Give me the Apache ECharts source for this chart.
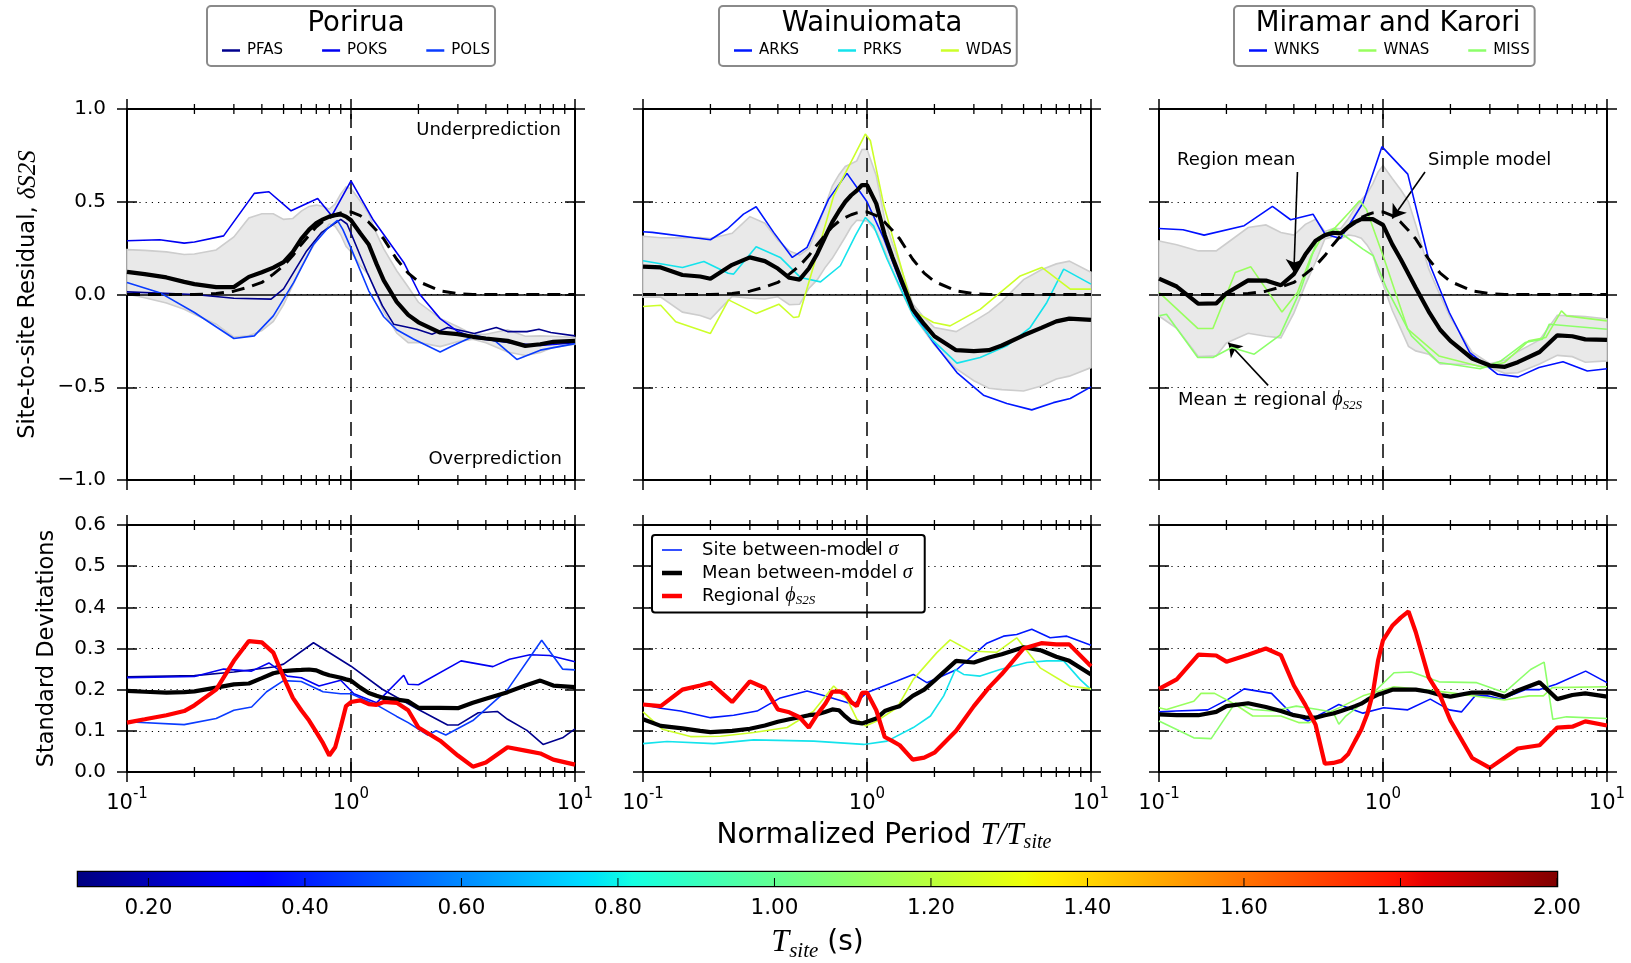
<!DOCTYPE html>
<html>
<head>
<meta charset="utf-8">
<title>Site-to-site residuals by region</title>
<script src="https://cdn.jsdelivr.net/npm/echarts@6/dist/echarts.min.js"></script>
<style>
html, body { margin: 0; padding: 0; background: #fff; }
#chart { width: 1631px; height: 963px; }
</style>
</head>
<body>
<div id="chart"></div>
<script>
// ---------------- data ----------------
// Normalized periods T/Tsite at which the region mean, regional phi and mean sigma are given
const periods = [0.1, 0.12, 0.15, 0.18, 0.2, 0.25, 0.3, 0.35, 0.4, 0.45, 0.5, 0.55, 0.6, 0.65, 0.7, 0.75, 0.8, 0.85, 0.9, 0.95, 1.0, 1.1, 1.2, 1.3, 1.4, 1.6, 1.8, 2.0, 2.5, 3.0, 3.5, 4.0, 5.0, 6.0, 7.0, 8.0, 10];

// Simple model residual (same in every region)
const simpleModel = [0, 0, 0, 0, 0, 0.005, 0.018, 0.04, 0.065, 0.11, 0.155, 0.21, 0.27, 0.32, 0.365, 0.395, 0.415, 0.43, 0.44, 0.445, 0.445, 0.425, 0.39, 0.345, 0.3, 0.19, 0.115, 0.07, 0.02, 0.005, 0, 0, 0, 0, 0, 0, 0];

// Porirua
const poriruaMean = [0.122, 0.11, 0.092, 0.068, 0.056, 0.04, 0.04, 0.095, 0.12, 0.145, 0.175, 0.23, 0.30, 0.35, 0.385, 0.405, 0.42, 0.428, 0.432, 0.42, 0.40, 0.33, 0.27, 0.165, 0.076, -0.04, -0.11, -0.15, -0.205, -0.214, -0.228, -0.237, -0.25, -0.277, -0.268, -0.255, -0.25];
const poriruaPhi = [0.12, 0.128, 0.138, 0.148, 0.162, 0.20, 0.27, 0.318, 0.315, 0.29, 0.23, 0.18, 0.15, 0.125, 0.097, 0.07, 0.04, 0.06, 0.11, 0.16, 0.17, 0.174, 0.165, 0.163, 0.17, 0.168, 0.15, 0.108, 0.076, 0.04, 0.013, 0.023, 0.06, 0.052, 0.045, 0.03, 0.018];
const poriruaSigmaMean = [0.197, 0.195, 0.193, 0.194, 0.196, 0.205, 0.213, 0.215, 0.228, 0.24, 0.245, 0.247, 0.248, 0.249, 0.247, 0.24, 0.235, 0.232, 0.229, 0.225, 0.222, 0.205, 0.192, 0.185, 0.18, 0.176, 0.172, 0.156, 0.156, 0.155, 0.168, 0.178, 0.194, 0.21, 0.222, 0.21, 0.206];
const pfasResidual = [[0.1, 0.014], [0.2, 0.0], [0.3, -0.02], [0.44, -0.025], [0.5, 0.03], [0.63, 0.23], [0.74, 0.335], [0.9, 0.405], [0.96, 0.38], [1.0, 0.33], [1.18, 0.12], [1.38, -0.06], [1.55, -0.16], [1.97, -0.187], [2.3, -0.214], [2.7, -0.178], [3.55, -0.21], [4.45, -0.178], [5.0, -0.2], [6.1, -0.2], [6.9, -0.187], [7.8, -0.205], [10, -0.223]];
const poksResidual = [[0.1, 0.29], [0.14, 0.295], [0.18, 0.277], [0.2, 0.283], [0.27, 0.316], [0.37, 0.545], [0.43, 0.554], [0.54, 0.451], [0.71, 0.518], [0.82, 0.424], [1.0, 0.613], [1.26, 0.40], [1.72, 0.173], [2.03, 0.0], [2.5, -0.13], [3.0, -0.2], [3.6, -0.235], [4.5, -0.25], [5.5, -0.265], [7, -0.275], [10, -0.26]];
const polsResidual = [[0.1, 0.065], [0.14, 0.01], [0.2, -0.097], [0.3, -0.237], [0.37, -0.223], [0.45, -0.115], [0.555, 0.065], [0.68, 0.27], [0.78, 0.352], [0.87, 0.40], [0.92, 0.35], [1.0, 0.25], [1.2, 0.02], [1.4, -0.12], [1.6, -0.19], [1.9, -0.24], [2.5, -0.31], [2.8, -0.28], [3.6, -0.22], [4.4, -0.25], [5.5, -0.35], [7, -0.3], [10, -0.265]];
const pfasSigma = [[0.1, 0.231], [0.2, 0.234], [0.3, 0.243], [0.45, 0.255], [0.5, 0.262], [0.68, 0.314], [1.0, 0.257], [1.38, 0.201], [2.0, 0.152], [2.7, 0.114], [3.0, 0.114], [3.7, 0.144], [4.5, 0.147], [5.0, 0.128], [6.1, 0.101], [7.2, 0.067], [8.8, 0.083], [10, 0.105]];
const poksSigma = [[0.1, 0.229], [0.2, 0.232], [0.27, 0.25], [0.36, 0.245], [0.43, 0.265], [0.52, 0.233], [0.6, 0.229], [0.72, 0.209], [0.9, 0.223], [1.03, 0.19], [1.3, 0.168], [1.72, 0.235], [1.8, 0.213], [2.0, 0.212], [3.1, 0.27], [4.3, 0.256], [5.1, 0.274], [6.3, 0.285], [7.7, 0.283], [10, 0.268]];
const polsSigma = [[0.1, 0.122], [0.18, 0.115], [0.25, 0.13], [0.3, 0.15], [0.36, 0.158], [0.42, 0.195], [0.5, 0.222], [0.6, 0.22], [0.75, 0.195], [0.9, 0.19], [1.0, 0.19], [1.3, 0.163], [1.6, 0.135], [1.8, 0.12], [2.2, 0.09], [2.4, 0.1], [2.65, 0.09], [3.5, 0.125], [5, 0.2], [7.1, 0.32], [8.8, 0.25], [10, 0.248]];

// Wainuiomata
const wainuiomataMean = [0.15, 0.146, 0.105, 0.097, 0.085, 0.16, 0.2, 0.18, 0.14, 0.09, 0.08, 0.14, 0.22, 0.31, 0.39, 0.45, 0.5, 0.535, 0.56, 0.59, 0.59, 0.49, 0.32, 0.2, 0.1, -0.08, -0.16, -0.225, -0.3, -0.305, -0.3, -0.275, -0.22, -0.18, -0.145, -0.13, -0.137];
const wainuiomataPhi = [0.164, 0.16, 0.2, 0.21, 0.217, 0.17, 0.22, 0.204, 0.152, 0.145, 0.133, 0.108, 0.14, 0.165, 0.195, 0.196, 0.19, 0.17, 0.16, 0.192, 0.193, 0.15, 0.085, 0.075, 0.065, 0.03, 0.035, 0.047, 0.1, 0.16, 0.205, 0.238, 0.3, 0.313, 0.31, 0.31, 0.257];
const wainuiomataSigmaMean = [0.128, 0.112, 0.106, 0.1, 0.097, 0.1, 0.105, 0.113, 0.122, 0.128, 0.133, 0.138, 0.14, 0.146, 0.152, 0.15, 0.135, 0.123, 0.12, 0.118, 0.122, 0.13, 0.148, 0.155, 0.16, 0.185, 0.2, 0.222, 0.27, 0.266, 0.278, 0.286, 0.303, 0.295, 0.28, 0.27, 0.237];
const arksResidual = [[0.1, 0.338], [0.11, 0.335], [0.2, 0.295], [0.238, 0.353], [0.281, 0.433], [0.32, 0.473], [0.383, 0.335], [0.464, 0.2], [0.54, 0.254], [0.674, 0.514], [0.814, 0.653], [1.0, 0.5], [1.19, 0.3], [1.41, 0.065], [1.61, -0.097], [1.98, -0.259], [2.52, -0.421], [3.31, -0.543], [4.21, -0.588], [5.44, -0.622], [6.79, -0.583], [8.08, -0.561], [10, -0.498]];
const prksResidual = [[0.1, 0.182], [0.15, 0.146], [0.187, 0.178], [0.24, 0.115], [0.254, 0.11], [0.32, 0.257], [0.41, 0.2], [0.504, 0.092], [0.62, 0.068], [0.76, 0.155], [0.887, 0.317], [0.983, 0.415], [1.07, 0.37], [1.23, 0.19], [1.61, -0.115], [1.98, -0.25], [2.52, -0.37], [3.2, -0.34], [4.21, -0.277], [5.35, -0.178], [6.35, -0.043], [7.55, 0.137], [10, 0.056]];
const wdasResidual = [[0.1, -0.065], [0.12, -0.058], [0.14, -0.147], [0.2, -0.21], [0.241, -0.029], [0.32, -0.103], [0.404, -0.052], [0.47, -0.124], [0.496, -0.12], [0.578, 0.155], [0.71, 0.532], [0.983, 0.865], [1.035, 0.83], [1.19, 0.478], [1.61, -0.088], [1.98, -0.151], [2.35, -0.169], [3.2, -0.08], [4.83, 0.1], [6.03, 0.146], [8.08, 0.029], [10, 0.029]];
const arksSigma = [[0.1, 0.164], [0.12, 0.155], [0.147, 0.148], [0.2, 0.132], [0.254, 0.138], [0.323, 0.148], [0.41, 0.18], [0.54, 0.197], [0.64, 0.186], [0.872, 0.164], [1.0, 0.193], [1.36, 0.221], [1.61, 0.237], [1.85, 0.217], [2.52, 0.249], [3.43, 0.313], [4.07, 0.33], [4.66, 0.334], [5.44, 0.347], [6.57, 0.326], [7.8, 0.33], [10, 0.308]];
const prksSigma = [[0.1, 0.069], [0.128, 0.074], [0.207, 0.069], [0.312, 0.078], [0.578, 0.075], [0.966, 0.067], [1.23, 0.075], [1.61, 0.108], [1.92, 0.136], [2.2, 0.185], [2.48, 0.249], [2.7, 0.237], [3.2, 0.233], [3.93, 0.249], [5.18, 0.266], [6.35, 0.27], [7.55, 0.27], [8.93, 0.225], [10, 0.2]];
const wdasSigma = [[0.1, 0.146], [0.122, 0.104], [0.163, 0.086], [0.222, 0.087], [0.312, 0.096], [0.44, 0.108], [0.578, 0.148], [0.71, 0.209], [0.814, 0.177], [0.902, 0.128], [0.983, 0.112], [1.108, 0.124], [1.36, 0.156], [1.61, 0.225], [2.05, 0.29], [2.35, 0.321], [2.89, 0.294], [3.8, 0.291], [4.66, 0.326], [5.93, 0.253], [8.08, 0.209], [10, 0.202]];

// Miramar and Karori
const miramarMean = [0.086, 0.043, -0.05, -0.048, 0.007, 0.076, 0.075, 0.05, 0.11, 0.215, 0.29, 0.32, 0.333, 0.33, 0.365, 0.39, 0.406, 0.406, 0.406, 0.39, 0.375, 0.27, 0.19, 0.11, 0.036, -0.092, -0.19, -0.25, -0.345, -0.383, -0.39, -0.365, -0.31, -0.22, -0.225, -0.242, -0.245];
const miramarPhi = [0.202, 0.225, 0.285, 0.283, 0.268, 0.285, 0.3, 0.284, 0.21, 0.163, 0.115, 0.02, 0.022, 0.027, 0.044, 0.075, 0.103, 0.14, 0.19, 0.27, 0.32, 0.355, 0.375, 0.39, 0.34, 0.23, 0.185, 0.125, 0.034, 0.01, 0.035, 0.057, 0.065, 0.108, 0.11, 0.123, 0.113];
const miramarSigmaMean = [0.14, 0.138, 0.138, 0.146, 0.16, 0.167, 0.158, 0.148, 0.138, 0.133, 0.132, 0.138, 0.142, 0.148, 0.154, 0.16, 0.166, 0.175, 0.182, 0.188, 0.192, 0.2, 0.2, 0.2, 0.2, 0.195, 0.187, 0.183, 0.193, 0.193, 0.183, 0.198, 0.218, 0.177, 0.187, 0.191, 0.183];
const wnksResidual = [[0.1, 0.356], [0.128, 0.349], [0.159, 0.32], [0.24, 0.371], [0.321, 0.475], [0.387, 0.403], [0.487, 0.433], [0.551, 0.326], [0.646, 0.302], [0.814, 0.493], [0.989, 0.797], [1.29, 0.649], [1.626, 0.155], [1.977, -0.097], [2.44, -0.313], [3.25, -0.43], [4.01, -0.444], [4.97, -0.394], [6.36, -0.363], [8.17, -0.412], [10, -0.4]];
const wnasResidual = [[0.1, 0.011], [0.149, -0.183], [0.174, -0.183], [0.219, 0.119], [0.257, 0.149], [0.354, -0.094], [0.415, 0.011], [0.478, 0.209], [0.532, 0.308], [0.613, 0.362], [0.706, 0.442], [0.786, 0.505], [0.843, 0.46], [1.007, 0.2], [1.29, -0.187], [1.776, -0.331], [2.82, -0.394], [3.48, -0.367], [4.47, -0.25], [5.33, -0.232], [6.26, -0.088], [6.6, -0.115], [10, -0.142]];
const missResidual = [[0.1, -0.115], [0.108, -0.106], [0.149, -0.34], [0.174, -0.34], [0.211, -0.286], [0.266, -0.322], [0.347, -0.219], [0.43, 0.029], [0.513, 0.308], [0.613, 0.353], [0.814, 0.245], [0.905, 0.209], [1.04, 0.03], [1.34, -0.223], [1.776, -0.367], [2.72, -0.4], [3.36, -0.358], [4.31, -0.259], [5.15, -0.241], [5.53, -0.16], [10, -0.187]];
const wnksSigma = [[0.1, 0.146], [0.119, 0.148], [0.165, 0.151], [0.204, 0.177], [0.24, 0.202], [0.318, 0.191], [0.387, 0.144], [0.462, 0.124], [0.551, 0.146], [0.635, 0.164], [0.814, 0.143], [1.007, 0.156], [1.29, 0.151], [1.626, 0.177], [1.977, 0.151], [2.24, 0.146], [2.58, 0.185], [2.92, 0.185], [3.36, 0.177], [4.31, 0.2], [4.97, 0.2], [5.93, 0.213], [8.03, 0.245], [10, 0.217]];
const wnasSigma = [[0.1, 0.156], [0.108, 0.152], [0.143, 0.172], [0.154, 0.191], [0.177, 0.191], [0.219, 0.164], [0.262, 0.136], [0.35, 0.136], [0.42, 0.12], [0.47, 0.12], [0.55, 0.14], [0.66, 0.16], [0.814, 0.185], [1.12, 0.207], [1.7, 0.197], [2.1, 0.191], [3.48, 0.175], [4.5, 0.185], [5.2, 0.185], [5.7, 0.205], [10, 0.207]];
const missSigma = [[0.1, 0.124], [0.143, 0.083], [0.171, 0.081], [0.219, 0.168], [0.262, 0.152], [0.323, 0.148], [0.41, 0.16], [0.513, 0.152], [0.6, 0.145], [0.635, 0.116], [0.682, 0.136], [0.814, 0.168], [1.12, 0.241], [1.34, 0.243], [1.78, 0.219], [2.62, 0.217], [3.48, 0.193], [4.56, 0.249], [5.24, 0.267], [5.73, 0.128], [6.6, 0.134], [10, 0.13]];

// Colour bar of site periods
const tsiteRange = [0.11, 2.0];
const tsiteTicks = [0.2, 0.4, 0.6, 0.8, 1.0, 1.2, 1.4, 1.6, 1.8, 2.0];
// Period axis tick labels and minor tick positions
const periodTickLabels = ['{b|10}{p|-1}', '{b|10}{p|0}', '{b|10}{p|1}'];
const periodMinorTicks = [0.2, 0.3, 0.4, 0.5, 0.6, 0.7, 0.8, 0.9, 2, 3, 4, 5, 6, 7, 8, 9];

// ---------------- styling ----------------
const FONT = 'DejaVu Sans';
const MATH = 'Liberation Serif';
const PHI = '\u03d5';
const siteColors = {
  PFAS: '#00008e', POKS: '#0000f2', POLS: '#0a3cff',
  ARKS: '#0018ff', PRKS: '#14e3ec', WDAS: '#ccff2a',
  WNKS: '#0010ff', WNAS: '#98ff5e', MISS: '#8cff6a'
};
const JET = [[0, '#000080'], [0.11, '#0000ff'], [0.125, '#0000ff'], [0.34, '#00dbff'], [0.35, '#00e5f7'],
  [0.375, '#14ffe2'], [0.64, '#eeff08'], [0.65, '#f7f500'], [0.66, '#ffec00'], [0.89, '#ff1300'],
  [0.91, '#e80000'], [1, '#800000']];

const GRID_LEFT = [127, 643, 1159];
const GRID_W = 448;
const ROW_TOP = [109, 525];
const ROW_H = [371, 247];

const regions = [
  { title: 'Porirua', mean: poriruaMean, phi: poriruaPhi, sigmaMean: poriruaSigmaMean,
    sites: [['PFAS', pfasResidual, pfasSigma], ['POKS', poksResidual, poksSigma], ['POLS', polsResidual, polsSigma]] },
  { title: 'Wainuiomata', mean: wainuiomataMean, phi: wainuiomataPhi, sigmaMean: wainuiomataSigmaMean,
    sites: [['ARKS', arksResidual, arksSigma], ['PRKS', prksResidual, prksSigma], ['WDAS', wdasResidual, wdasSigma]] },
  { title: 'Miramar and Karori', mean: miramarMean, phi: miramarPhi, sigmaMean: miramarSigmaMean,
    sites: [['WNKS', wnksResidual, wnksSigma], ['WNAS', wnasResidual, wnasSigma], ['MISS', missResidual, missSigma]] }
];

const grids = [], xAxes = [], yAxes = [], series = [];
const NO_LINE = { show: false, onZero: false };

// decade ticks (in log10 units) straddling the top or bottom frame edge
function decadeAxis(g, pos, labels) {
  return {
    type: 'value', gridIndex: g, position: pos, min: -1, max: 1, interval: 1, offset: -10,
    axisLine: NO_LINE,
    axisTick: { show: true, length: 20, lineStyle: { color: '#000', width: 1.5 } },
    axisLabel: labels ? {
      show: true, margin: 25, color: '#000',
      formatter: v => periodTickLabels[Math.round(v) + 1],
      rich: {
        b: { fontFamily: FONT, fontSize: 21, lineHeight: 27, verticalAlign: 'bottom', color: '#000' },
        p: { fontFamily: FONT, fontSize: 15, lineHeight: 17, verticalAlign: 'top', color: '#000' }
      }
    } : { show: false },
    splitLine: { show: false }
  };
}

// minor period ticks drawn on both the top and bottom frame edges
function minorTicks(ax) {
  return {
    type: 'custom', xAxisIndex: ax.xi, yAxisIndex: ax.yi, silent: true, animation: false, z: 30, clip: false,
    data: periodMinorTicks.map(t => [t, 0]),
    encode: { x: 0, y: 1 },
    renderItem: (params, api) => {
      const cs = params.coordSys;
      const x = api.coord([api.value(0), api.value(1)])[0];
      const yb = cs.y + cs.height;
      return { type: 'group', children: [
        { type: 'line', shape: { x1: x, y1: cs.y - 5, x2: x, y2: cs.y + 5 }, style: { stroke: '#000', lineWidth: 1.3 } },
        { type: 'line', shape: { x1: x, y1: yb - 5, x2: x, y2: yb + 5 }, style: { stroke: '#000', lineWidth: 1.3 } }
      ] };
    }
  };
}

function addPanel(col, row) {
  const g = grids.length;
  grids.push({ left: GRID_LEFT[col], top: ROW_TOP[row], width: GRID_W, height: ROW_H[row],
    show: true, borderColor: '#000', borderWidth: 2, backgroundColor: 'transparent' });
  const xi = xAxes.length;
  xAxes.push({ type: 'log', logBase: 10, gridIndex: g, min: 0.1, max: 10, show: false, axisLine: NO_LINE });
  xAxes.push(decadeAxis(g, 'bottom', row === 1));
  xAxes.push(decadeAxis(g, 'top', false));

  const range = row === 0 ? { min: -1, max: 1, interval: 0.5 } : { min: 0, max: 0.6, interval: 0.1 };
  const tick = { show: true, length: 20, lineStyle: { color: '#000', width: 1.5 } };
  const yi = yAxes.length;
  const left = Object.assign({
    type: 'value', gridIndex: g, position: 'left', offset: -10,
    axisLine: NO_LINE, axisTick: tick,
    axisLabel: { show: col === 0, margin: 31, fontSize: 20, color: '#000', fontFamily: FONT,
      formatter: v => (v < 0 ? '\u2212' : '') + Math.abs(v).toFixed(1) },
    splitLine: { show: true, lineStyle: { color: '#000', width: 1, type: [1.2, 5] } }
  }, range);
  if (col === 0) {
    left.name = row === 0 ? '{t|Site-to-site Residual, }{m|\u03b4S2S}' : '{t|Standard Devitations}';
    left.nameLocation = 'middle';
    left.nameRotate = 90;
    left.nameGap = row === 0 ? 96 : 78;
    left.nameTextStyle = { rich: {
      t: { fontFamily: FONT, fontSize: 22.5, color: '#000' },
      m: { fontFamily: MATH, fontStyle: 'italic', fontSize: 25, color: '#000' } } };
  }
  yAxes.push(left);
  yAxes.push(Object.assign({ type: 'value', gridIndex: g, position: 'right', offset: -10,
    axisLine: NO_LINE, axisTick: tick, axisLabel: { show: false }, splitLine: { show: false } }, range));
  const ax = { xi, yi };
  series.push(minorTicks(ax));
  return ax;
}

function onGrid(values) { return periods.map((t, i) => [t, values[i]]); }

function line(name, data, color, width, ax, z, extra) {
  return Object.assign({
    type: 'line', name, data, xAxisIndex: ax.xi, yAxisIndex: ax.yi, z,
    symbol: 'none', showSymbol: false, silent: true, animation: false,
    lineStyle: { color, width }, itemStyle: { color }
  }, extra || {});
}

function refLines(withZero) {
  const d = [{ xAxis: 1, lineStyle: { color: '#000', width: 1.5, type: [14, 8] } }];
  if (withZero) d.unshift({ yAxis: 0, lineStyle: { color: '#000', width: 1.5, type: 'solid' } });
  return { silent: true, symbol: ['none', 'none'], label: { show: false }, animation: false, data: d };
}

const ARROWS = [
  [[0.415, 0.66], [0.40, 0.12]],
  [[1.54, 0.66], [1.10, 0.41]],
  [[0.307, -0.49], [0.204, -0.26]]
];

regions.forEach((r, col) => {
  // residual panel
  const top = addPanel(col, 0);
  const mean = r.mean, phi = r.phi;
  series.push({
    type: 'custom', xAxisIndex: top.xi, yAxisIndex: top.yi, z: 1, silent: true, animation: false,
    data: periods.map((t, i) => [t, mean[i] - phi[i], mean[i] + phi[i]]),
    renderItem: (params, api) => {
      if (params.dataIndex !== 0) return null;
      const pts = [];
      for (let i = 0; i < periods.length; i++) pts.push(api.coord([periods[i], mean[i] + phi[i]]));
      for (let i = periods.length - 1; i >= 0; i--) pts.push(api.coord([periods[i], mean[i] - phi[i]]));
      return { type: 'polygon', shape: { points: pts }, style: { fill: '#e9e9e9', stroke: '#cdcdcd', lineWidth: 1.6 } };
    },
    markLine: refLines(true)
  });
  r.sites.forEach(([name, resid]) => series.push(line(name, resid, siteColors[name], 1.6, top, 10)));
  series.push(line('Simple model', onGrid(simpleModel), '#000', 3, top, 11, { lineStyle: { color: '#000', width: 3, type: [13, 8] } }));
  const meanSeries = line('Region mean', onGrid(mean), '#000', 4.2, top, 12);
  if (col === 2) {
    meanSeries.markLine = {
      silent: true, animation: false, label: { show: false }, symbol: ['none', 'arrow'], symbolSize: 13,
      lineStyle: { color: '#000', width: 1.6, type: 'solid' },
      data: ARROWS.map(([a, b]) => [{ coord: a }, { coord: b }])
    };
  }
  series.push(meanSeries);

  // standard deviation panel
  const bot = addPanel(col, 1);
  series.push({ type: 'line', xAxisIndex: bot.xi, yAxisIndex: bot.yi, data: [], silent: true, markLine: refLines(false) });
  r.sites.forEach(([name, , sig]) => series.push(line('Site between-model \u03c3', sig, siteColors[name], 1.6, bot, 10)));
  series.push(line('Mean between-model \u03c3', onGrid(r.sigmaMean), '#000', 4.2, bot, 11));
  series.push(line('Regional ' + PHI + 'S2S', onGrid(phi), '#ff0000', 4.2, bot, 12));
});

// colour bar
const cbGrid = grids.length;
grids.push({ left: 78, top: 872, width: 1479, height: 19, show: true, borderColor: '#000', borderWidth: 2.5 });
const cbX = xAxes.length;
xAxes.push({
  type: 'value', gridIndex: cbGrid, position: 'bottom', min: tsiteRange[0], max: tsiteRange[1],
  axisLine: NO_LINE,
  axisTick: { show: false },
  axisLabel: { show: true, customValues: tsiteTicks, margin: 11, fontSize: 21.5, color: '#000', fontFamily: FONT,
    formatter: v => v.toFixed(2) },
  splitLine: { show: false },
  name: '{m|T}{s|site}{t| (s)}', nameLocation: 'middle', nameGap: 38,
  nameTextStyle: { rich: {
    m: { fontFamily: MATH, fontStyle: 'italic', fontSize: 32, lineHeight: 38, verticalAlign: 'middle', color: '#000' },
    s: { fontFamily: MATH, fontStyle: 'italic', fontSize: 21, lineHeight: 16, verticalAlign: 'bottom', color: '#000' },
    t: { fontFamily: FONT, fontSize: 28, lineHeight: 38, verticalAlign: 'middle', color: '#000' } } }
});
const cbY = yAxes.length;
yAxes.push({ type: 'value', gridIndex: cbGrid, min: 0, max: 1, show: false, axisLine: NO_LINE });
series.push({
  type: 'custom', xAxisIndex: cbX, yAxisIndex: cbY, silent: true, animation: false, z: 1,
  data: [[tsiteRange[0], 0, tsiteRange[1], 1]],
  encode: { x: [0, 2], y: [1, 3] },
  renderItem: (params, api) => {
    const p0 = api.coord([api.value(0), api.value(1)]);
    const p1 = api.coord([api.value(2), api.value(3)]);
    const children = [{ type: 'rect', shape: { x: p0[0], y: p1[1], width: p1[0] - p0[0], height: p0[1] - p1[1] },
      style: { fill: new echarts.graphic.LinearGradient(0, 0, 1, 0, JET.map(([o, c]) => ({ offset: o, color: c }))) } }];
    tsiteTicks.forEach(t => {
      const x = api.coord([t, 0])[0];
      children.push({ type: 'line', shape: { x1: x, y1: p0[1], x2: x, y2: p0[1] - 8 }, style: { stroke: '#000', lineWidth: 1 } });
    });
    return { type: 'group', children };
  }
});

// legends
const topLegendBase = {
  orient: 'horizontal', top: 6, selectedMode: false, icon: 'rect', itemWidth: 18, itemHeight: 2.5, itemGap: 39,
  padding: [37, 5, 8, 15], borderColor: '#8a8a8a', borderWidth: 2, borderRadius: 4,
  backgroundColor: 'transparent',
  textStyle: { fontFamily: FONT, fontSize: 15, color: '#000', padding: [0, 0, 0, 2] }
};
const legends = [
  Object.assign({ left: 207, data: ['PFAS', 'POKS', 'POLS'] }, topLegendBase),
  Object.assign({ left: 719, data: ['ARKS', 'PRKS', 'WDAS'] }, topLegendBase),
  Object.assign({ left: 1234, data: ['WNKS', 'WNAS', 'MISS'] }, topLegendBase),
  {
    orient: 'vertical', left: 652, top: 535, selectedMode: false, itemWidth: 20, itemHeight: 12, itemGap: 3,
    symbolKeepAspect: true,
    padding: [5, 12, 5, 10], borderColor: '#000', borderWidth: 2, borderRadius: 3, backgroundColor: '#fff',
    data: [
      { name: 'Site between-model \u03c3', icon: 'path://M0,0H40V3.4H0Z', itemStyle: { color: '#1030ff' } },
      { name: 'Mean between-model \u03c3', icon: 'path://M0,0H40V9H0Z', itemStyle: { color: '#000' } },
      { name: 'Regional ' + PHI + 'S2S', icon: 'path://M0,0H40V9H0Z', itemStyle: { color: '#ff0000' } }
    ],
    formatter: name => name.indexOf('Regional') === 0
      ? '{t|Regional }{m|' + PHI + '}{s|S2S}'
      : '{t|' + name.slice(0, -1) + '}{m|\u03c3}',
    textStyle: { padding: [0, 0, 0, 15], rich: {
      t: { fontFamily: FONT, fontSize: 18, lineHeight: 23, verticalAlign: 'middle', color: '#000' },
      m: { fontFamily: MATH, fontStyle: 'italic', fontSize: 20, lineHeight: 23, verticalAlign: 'middle', color: '#000' },
      s: { fontFamily: MATH, fontStyle: 'italic', fontSize: 13, lineHeight: 10, verticalAlign: 'bottom', color: '#000' } } }
  }
];

const titles = [
  { text: 'Porirua', left: 351, top: 5 },
  { text: 'Wainuiomata', left: 867, top: 5 },
  { text: 'Miramar and Karori', left: 1383, top: 5 }
].map(t => Object.assign(t, { textAlign: 'center', z: 10,
  textStyle: { fontFamily: FONT, fontSize: 27.5, fontWeight: 'normal', color: '#000' } }));

const annotRich = {
  t: { fontFamily: FONT, fontSize: 18, lineHeight: 24, verticalAlign: 'middle', fill: '#000' },
  m: { fontFamily: MATH, fontStyle: 'italic', fontSize: 20, lineHeight: 24, verticalAlign: 'middle', fill: '#000' },
  s: { fontFamily: MATH, fontStyle: 'italic', fontSize: 13, lineHeight: 11, verticalAlign: 'bottom', fill: '#000' }
};
function note(x, y, text, align) {
  return { type: 'text', x, y, z: 50, silent: true,
    style: { text, rich: annotRich, align: align || 'left', verticalAlign: 'middle', fontFamily: FONT, fontSize: 18, fill: '#000' } };
}
const graphics = [
  note(561, 130, '{t|Underprediction}', 'right'),
  note(562, 459, '{t|Overprediction}', 'right'),
  note(1177, 160, '{t|Region mean}'),
  note(1428, 160, '{t|Simple model}'),
  note(1178, 400, '{t|Mean \u00b1 regional }{m|' + PHI + '}{s|S2S}'),
  { type: 'text', x: 884, y: 836, z: 50, silent: true,
    style: { text: '{t|Normalized Period }{m|T/T}{s|site}', align: 'center', verticalAlign: 'middle',
      rich: {
        t: { fontFamily: FONT, fontSize: 28, lineHeight: 34, verticalAlign: 'middle', fill: '#000' },
        m: { fontFamily: MATH, fontStyle: 'italic', fontSize: 31, lineHeight: 34, verticalAlign: 'middle', fill: '#000' },
        s: { fontFamily: MATH, fontStyle: 'italic', fontSize: 20, lineHeight: 15, verticalAlign: 'bottom', fill: '#000' } } } }
];

const chart = echarts.init(document.getElementById('chart'), null, { renderer: 'canvas' });
chart.setOption({
  animation: false,
  backgroundColor: '#fff',
  textStyle: { fontFamily: FONT },
  title: titles,
  legend: legends,
  grid: grids,
  xAxis: xAxes,
  yAxis: yAxes,
  series,
  graphic: graphics
});
</script>
</body>
</html>
